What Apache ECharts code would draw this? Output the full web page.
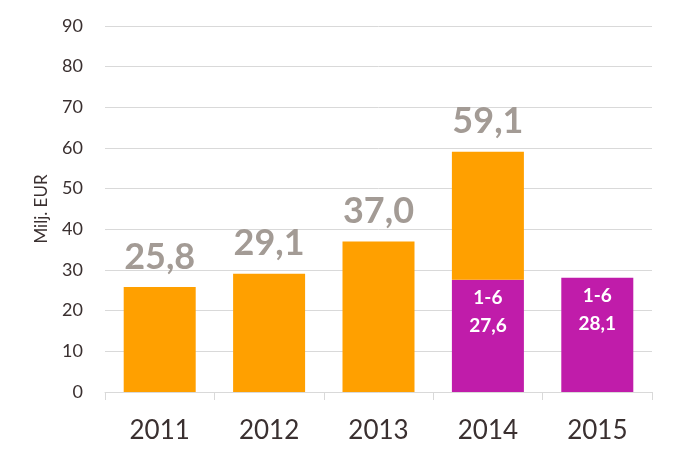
<!DOCTYPE html>
<html><head><meta charset="utf-8">
<script src="https://cdn.jsdelivr.net/npm/echarts@6/dist/echarts.min.js"></script>
<style>html,body{margin:0;padding:0;background:#fff}#c{width:679px;height:463px}</style>
</head><body><div id="c"></div>
<script>
const categories = ['2011','2012','2013','2014','2015'];
const totals = [25.8, 29.1, 37.0, 59.1, null];
const firstHalf = [null, null, null, 27.6, 28.1];
const firstHalfLabel = '1-6';
const yTicks = [0,10,20,30,40,50,60,70,80,90];

const rest = totals.map((t,i)=> t==null ? null : +(t - (firstHalf[i]||0)).toFixed(1));
const fmt = v => v.toFixed(1).replace('.', ',');
const font = 'Lato, "Open Sans", sans-serif';

const chart = echarts.init(document.getElementById('c'));
chart.setOption({
  animation:false,
  grid:{left:105,right:27,top:26,bottom:71},
  xAxis:{type:'category',data:categories,
    axisLine:{lineStyle:{color:'#d9d9d9',width:1}},
    axisTick:{show:true,length:8,lineStyle:{color:'#d9d9d9'}},
    axisLabel:{fontSize:26,color:'#3a3030',margin:26,fontFamily:font}},
  yAxis:{type:'value',min:0,max:90,interval:10,
    name:'Milj. EUR',nameLocation:'middle',nameGap:55,nameRotate:90,
    nameTextStyle:{fontSize:17,color:'#3a3030',fontFamily:font},
    axisLine:{show:false},axisTick:{show:false},
    splitLine:{lineStyle:{color:'#d9d9d9',width:1}},
    axisLabel:{fontSize:18,color:'#3a3030',margin:22,fontFamily:font,
      formatter:v=> yTicks.includes(v) ? String(v) : ''}},
  series:[
    {type:'bar',stack:'s',barWidth:72,data:firstHalf,
     itemStyle:{color:'#c01caa'},
     label:{show:true,position:'insideTop',distance:4,color:'#fff',fontWeight:'bold',
       fontSize:19,lineHeight:28,fontFamily:font,
       formatter:p=> firstHalfLabel+'\n'+fmt(p.value)}},
    {type:'bar',stack:'s',barWidth:72,data:rest,
     itemStyle:{color:'#ffa000'},
     label:{show:true,position:'top',distance:12,color:'#a39b95',fontWeight:'bold',
       fontSize:36,fontFamily:font,
       formatter:p=> fmt(totals[p.dataIndex])}}
  ]
});
</script></body></html>
